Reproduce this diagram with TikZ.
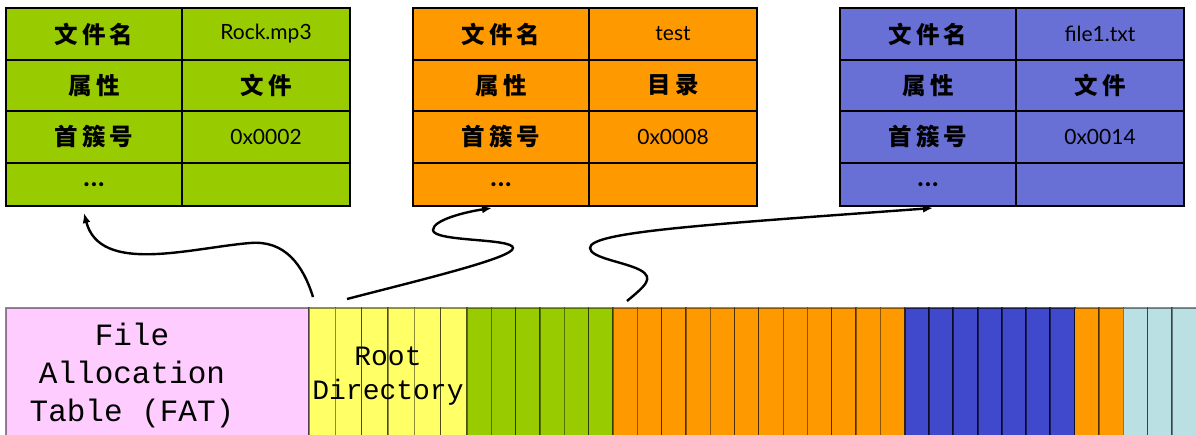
\documentclass[tikz,border=0pt]{standalone}
\usepackage{fontspec}
\setmainfont{Lato}
\newfontfamily\cjkfont{Noto Sans CJK SC}
\newfontfamily\courierfont{Liberation Mono}
\usetikzlibrary{arrows.meta}
\definecolor{tgreen}{RGB}{153,204,0}
\definecolor{torange}{RGB}{255,153,0}
\definecolor{tpurple}{RGB}{104,112,214}
\definecolor{cpink}{RGB}{255,204,255}
\definecolor{cyellow}{RGB}{255,255,102}
\definecolor{cblue}{RGB}{64,72,204}
\definecolor{clight}{RGB}{187,224,228}
\tikzset{
  tcell/.style={draw=black, line width=2pt, anchor=north west, outer sep=0pt, inner sep=0pt,
    font=\fontsize{21}{24}\selectfont},
  zh/.style={font=\cjkfont\bfseries\fontsize{23.5}{24}\selectfont},
  scell/.style={draw=black, draw opacity=0.45, line width=1.2pt},
  bcell/.style={draw=black, draw opacity=0.6, line width=2pt},
  conn/.style={draw=black, line width=2.4pt, -{Latex[length=10pt,width=8pt]}},
}
\newcommand\ftable[6]{%
  \node[tcell, zh, fill=#3, minimum width=176pt, minimum height=52pt] (#1-a) at (#2,8) {文\hspace{4pt}件\hspace{4pt}名};
  \node[tcell, fill=#3, minimum width=168pt, minimum height=52pt] (#1-av) at (#2+176,8) {#4};
  \node[tcell, zh, fill=#3, minimum width=176pt, minimum height=51pt] (#1-b) at (#2,60) {属\hspace{5pt}性};
  \node[tcell, zh, fill=#3, minimum width=168pt, minimum height=51pt] (#1-bv) at (#2+176,60) {#5};
  \node[tcell, zh, fill=#3, minimum width=176pt, minimum height=52pt] (#1-c) at (#2,111) {首\hspace{4pt}簇\hspace{4pt}号};
  \node[tcell, fill=#3, minimum width=168pt, minimum height=52pt] (#1-cv) at (#2+176,111) {#6};
  \node[tcell, fill=#3, minimum width=176pt, minimum height=43pt, font=\bfseries\fontsize{27}{24}\selectfont] (#1-d) at (#2,163) {\raisebox{-4pt}{.\hspace{1pt}.\hspace{1pt}.}};
  \node[tcell, fill=#3, minimum width=168pt, minimum height=43pt] (#1-dv) at (#2+176,163) {};
}
\begin{document}
\begin{tikzpicture}[x=1pt,y=-1pt]
\useasboundingbox (0,0) rectangle (1196,434);
\fill[white] (0,0) rectangle (1196,434);

% directory entry tables
\ftable{t1}{6}{tgreen}{Rock.mp3}{文\hspace{5pt}件}{0x0002}
\ftable{t2}{413}{torange}{test}{目\hspace{5pt}录}{0x0008}
\ftable{t3}{840}{tpurple}{file1.txt}{文\hspace{5pt}件}{0x0014}

% disk layout strip
\begin{scope}
\clip (0,0) rectangle (1196,434);
\filldraw[scell, fill=cpink] (6,308) rectangle (309,440);
\foreach \i in {0,...,5}
  \filldraw[scell, fill=cyellow] ({309+26.33*\i},308) rectangle ({309+26.33*(\i+1)},440);
\foreach \i in {0,...,5}
  \filldraw[scell, fill=tgreen] ({467+24.33*\i},308) rectangle ({467+24.33*(\i+1)},440);
\foreach \i in {0,...,11}
  \filldraw[scell, fill=torange] ({613+24.3*\i},308) rectangle ({613+24.3*(\i+1)},440);
\foreach \i in {12,...,18}
  \filldraw[bcell, fill=cblue] ({613+24.3*\i},308) rectangle ({613+24.3*(\i+1)},440);
\foreach \i in {19,20}
  \filldraw[scell, fill=torange] ({613+24.3*\i},308) rectangle ({613+24.3*(\i+1)},440);
\foreach \i in {21,22,23}
  \filldraw[scell, fill=clight] ({613+24.3*\i},308) rectangle ({613+24.3*(\i+1)},440);
\end{scope}

\node[font=\courierfont\fontsize{31}{38}\selectfont, align=center, inner sep=0pt] (fat) at (132,375) {File\\Allocation\\Table (FAT)};
\node[font=\courierfont\fontsize{28}{34}\selectfont, align=center, inner sep=0pt] (root) at (388,376) {Root\\Directory};

% connectors
\coordinate (s1) at (313,297);
\coordinate (s2) at (347,299);
\coordinate (s3) at (627,301);
\coordinate (e1) at ([xshift=-10pt,yshift=-7pt]t1-d.south);
\coordinate (e2) at ([xshift=-9pt,yshift=-2pt]t2-d.south);
\coordinate (e3) at ([xshift=5pt,yshift=-2pt]t3-d.south);

\draw[conn] (s1) .. controls (303,265) and (285,240) .. (250,243)
  .. controls (190,248) and (100,275) .. (e1);
\draw[conn] (s2) .. controls (420,280) and (513,258) .. (513,248)
  .. controls (513,238) and (433,242) .. (433,230)
  .. controls (433,220) and (465,212) .. (e2);
\draw[conn] (s3) .. controls (645,286) and (655,278) .. (640,270)
  .. controls (625,262) and (590,258) .. (590,248)
  .. controls (590,232) and (700,225) .. (e3);
\end{tikzpicture}
\end{document}
